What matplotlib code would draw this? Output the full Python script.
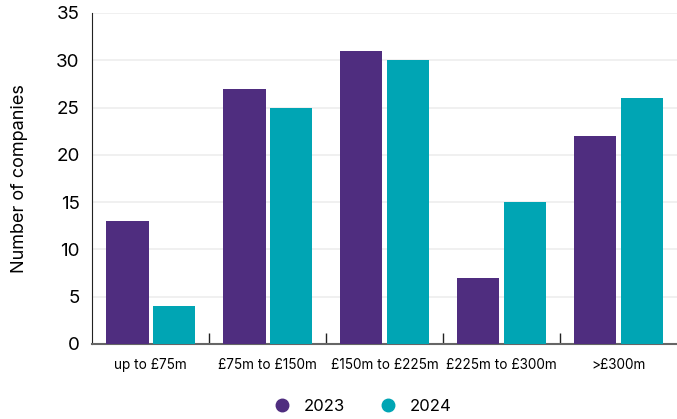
import numpy as np
import matplotlib.pyplot as plt
from matplotlib.lines import Line2D

plt.rcParams['font.family'] = ['Inter', 'DejaVu Sans']

# turnover bands and company counts per year
bands = ['up to £75m', '£75m to £150m', '£150m to £225m', '£225m to £300m', '>£300m']
counts_2023 = [13, 27, 31, 7, 22]
counts_2024 = [4, 25, 30, 15, 26]

purple = '#4f2d7f'
teal = '#00a5b4'

fig = plt.figure(figsize=(6.77, 4.19), dpi=100)
ax = fig.add_axes([0.136, 0.179, 0.864, 0.79])

x = np.arange(len(bands))
w = 0.365
ax.bar(x - 0.2, counts_2023, width=w, color=purple, zorder=3)
ax.bar(x + 0.2, counts_2024, width=w, color=teal, zorder=3)

ax.set_xlim(-0.5, len(bands) - 0.5)
ax.set_ylim(0, 35)
ax.set_yticks(range(0, 36, 5))
ax.grid(axis='y', color='#eeeeee', linewidth=1.2, zorder=0)

ax.set_xticks(x)
ax.set_xticklabels(bands, fontsize=9.8)
ax.set_xticks(np.arange(0.5, len(bands) - 0.5, 1), minor=True)
ax.tick_params(axis='x', which='major', length=0, pad=10)
ax.tick_params(axis='x', which='minor', direction='in', length=8, width=1, color='#222222')
ax.tick_params(axis='y', length=0, labelsize=13.5, pad=9)

for side in ['top', 'right']:
    ax.spines[side].set_visible(False)
ax.spines['left'].set_color('#222222')
ax.spines['bottom'].set_color('#666666')
ax.spines['bottom'].set_linewidth(1.5)

ax.set_ylabel('Number of companies', fontsize=13, labelpad=20)

handles = [Line2D([], [], marker='o', linestyle='', markersize=9, color=purple, label='2023'),
           Line2D([], [], marker='o', linestyle='', markersize=9, color=teal, label='2024')]
fig.legend(handles=handles, loc='center', bbox_to_anchor=(0.53, 0.03), ncol=2,
           frameon=False, fontsize=12, handletextpad=0.3, columnspacing=1.6)

fig.savefig('out.png', dpi=100)
